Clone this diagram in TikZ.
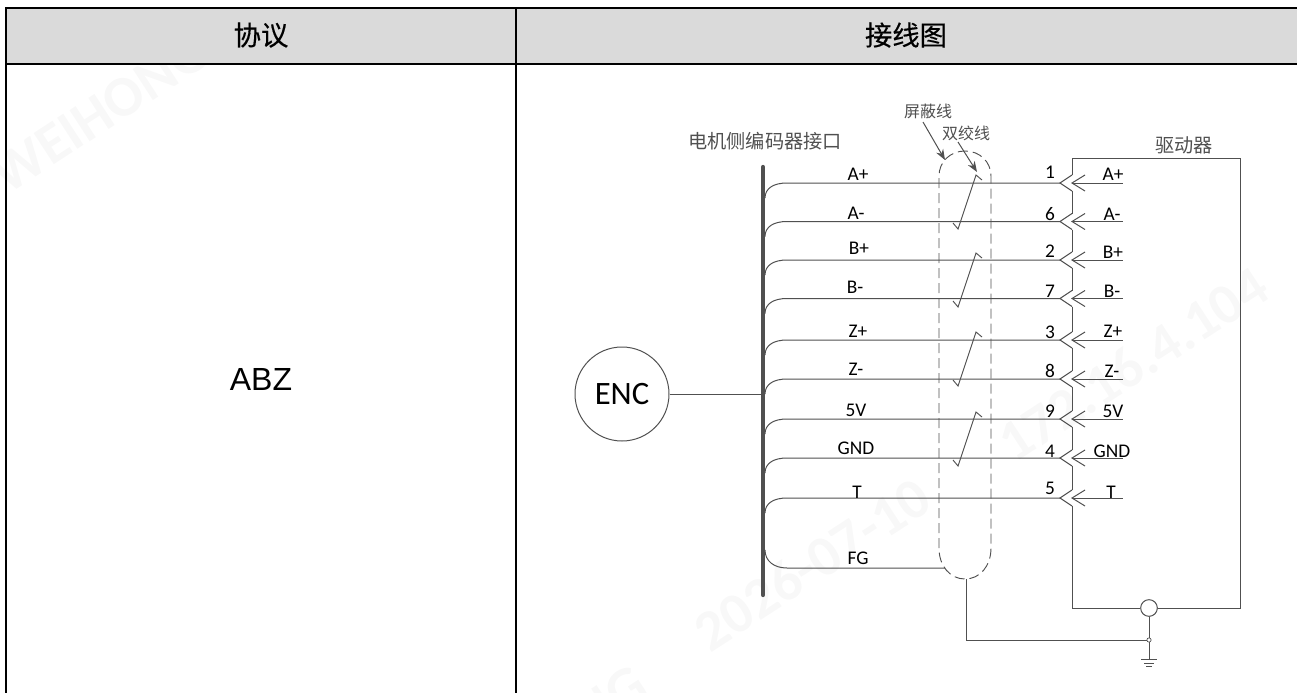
\documentclass[tikz,border=0pt]{standalone}
\usepackage{fontspec}
\setmainfont{Carlito}
\newfontfamily\cjk{Noto Sans CJK SC}
\newfontfamily\cjkhead[FakeBold=0.4]{Noto Sans CJK SC}
\newfontfamily\arialfont{Liberation Sans}
\usetikzlibrary{arrows.meta}
\definecolor{linegray}{HTML}{505050}
\definecolor{headgray}{HTML}{DADADA}
\definecolor{markgray}{HTML}{F8F8F8}
\tikzset{
  tableline/.style={draw=black,line width=1.5pt},
  wire/.style={draw=linegray,line width=0.75pt},
  shield/.style={draw=linegray,line width=0.7pt,dash pattern=on 7.5pt off 3.75pt},
  pointer/.style={draw=linegray,line width=0.75pt,-{Stealth[length=8pt,width=6pt]}},
  wirelabel/.style={anchor=base,inner sep=0pt,font=\fontsize{14.5}{16}\selectfont,text=black},
  cjklabel/.style={inner sep=0pt,font=\cjk\fontsize{12}{14}\selectfont,text=linegray},
  headlabel/.style={inner sep=0pt,font=\cjkhead\fontsize{20.5}{24}\selectfont,text=black},
  watermark/.style={inner sep=0pt,rotate=33,font=\bfseries\fontsize{43}{46}\selectfont,text=markgray}
}
\begin{document}
\begin{tikzpicture}[x=0.75pt,y=-0.75pt]
  \useasboundingbox (0,0) rectangle (1297,693);
  \node[watermark] (M1) at (100,113) {WEIHONG};
  \node[watermark] (M2) at (538,746) {WEIHONG};
  \node[watermark] (M3) at (812,564) {2026-07-10};
  \node[watermark] (M4) at (1133,364) {172.16.4.104};
  % table
  \fill[headgray] (6,8) rectangle (1297,64);
  \draw[tableline] (1297,8) -- (6,8) -- (6,693);
  \draw[tableline] (6,64) -- (1297,64);
  \draw[tableline] (516,8) -- (516,693);
  \node[headlabel] (H1) at (261,35) {协议};
  \node[headlabel] (H2) at (906,35) {接线图};
  \node[inner sep=0pt,font=\arialfont\fontsize{24}{28}\selectfont] (ABZ) at (261,379) {ABZ};

  % encoder and bus
  \node[draw=linegray,line width=0.75pt,circle,minimum size=70.5pt,inner sep=0pt,
    font=\fontsize{24.5}{28}\selectfont] (ENC) at (622,394) {ENC};
  \coordinate (BusT) at (763,167);
  \coordinate (BusB) at (763,595);
  \draw[draw=linegray,line width=3.2pt,line cap=round] (BusT) -- (BusB);
  \coordinate (BusE) at (763,394);
  \draw[wire] (ENC) -- (BusE);
  \node[cjklabel,font=\cjk\fontsize{14.4}{16}\selectfont] (TMotor) at (765,141) {电机侧编码器接口};
  \node[cjklabel,font=\cjk\fontsize{14.4}{16}\selectfont] (TDrive) at (1184,145) {驱动器};
  \node[cjklabel] (TShield) at (928,111) {屏蔽线};
  \node[cjklabel] (TTwist) at (966,133) {双绞线};

  % wires and connectors
  \foreach \name/\y/\nb/\pin in {Ap/183/178/1, An/221.5/220/6, Bp/260/257/2,
    Bn/298.5/297/7, Zp/340/338/3, Zn/379/377/8, Vv/419/417/9,
    Gd/458/457/4, Tt/498/494/5}{
    \coordinate (\name B) at (765,\y+15);
    \coordinate (\name L) at (787,\y);
    \coordinate (\name P) at (1060,\y);
    \coordinate (\name Q) at (1072,\y);
    \coordinate (\name R) at (1123,\y);
    \draw[wire] (\name B) .. controls (765,\y+5) and (774,\y) .. (\name L) -- (\name P);
    \draw[wire] (1072,\y-8) -- (\name P) -- (1072,\y+8);
    \draw[wire] (1085,\y-8) -- (\name Q) -- (1085,\y+8);
    \draw[wire] (\name Q) -- (\name R);
    \node[wirelabel] (\name N) at (1050,\nb) {\pin};
  }
  \node[wirelabel] (LAp) at (858,180) {A+};
  \node[wirelabel] (LAn) at (856,219) {A-};
  \node[wirelabel] (LBp) at (859,254) {B+};
  \node[wirelabel] (LBn) at (855,293) {B-};
  \node[wirelabel] (LZp) at (858,337) {Z+};
  \node[wirelabel] (LZn) at (856,375) {Z-};
  \node[wirelabel] (LVv) at (856,416) {5V};
  \node[wirelabel] (LGd) at (856,454) {GND};
  \node[wirelabel] (LTt) at (857,498) {T};
  \node[wirelabel] (LFg) at (858,564) {FG};
  \node[wirelabel] (RAp) at (1113,180.5) {A+};
  \node[wirelabel] (RAn) at (1112,220) {A-};
  \node[wirelabel] (RBp) at (1113,258) {B+};
  \node[wirelabel] (RBn) at (1112,297) {B-};
  \node[wirelabel] (RZp) at (1113,337) {Z+};
  \node[wirelabel] (RZn) at (1112,377) {Z-};
  \node[wirelabel] (RVv) at (1113,417) {5V};
  \node[wirelabel] (RGd) at (1112,457) {GND};
  \node[wirelabel] (RTt) at (1111,498) {T};

  % pin strip and drive box
  \foreach \x/\y in {ApP/AnP, AnP/BpP, BpP/BnP, BnP/ZpP, ZpP/ZnP, ZnP/VvP, VvP/GdP, GdP/TtP}{
    \draw[wire] ([xshift=9pt,yshift=-6pt]\x) -- ([xshift=9pt,yshift=6pt]\y);
  }
  \node[draw=linegray,line width=0.75pt,circle,minimum size=12.5pt,inner sep=0pt,fill=white] (Sh) at (1149,608) {};
  \draw[wire] (1072,175) -- (1072,158) -- (1240,158) -- (1240,608) -- (Sh);
  \draw[wire] (1072,506) -- (1072,608) -- (Sh);

  % FG wire and shield
  \coordinate (FgB) at (765,550);
  \coordinate (FgL) at (787,568);
  \coordinate (FgE) at (945,568);
  \draw[wire] (FgB) .. controls (765,561) and (774,568) .. (FgL) -- (FgE);
  \draw[shield] (939,548) -- (939,176) .. controls (939,162) and (950,151) .. (965,151)
    .. controls (980,151) and (991,162) .. (991,176) -- (991,548)
    .. controls (991,566) and (980,579) .. (965,579) .. controls (950,579) and (939,566) .. (939,548);
  \coordinate (ShB) at (966,579);
  \node[draw=linegray,line width=0.5pt,circle,minimum size=3.2pt,inner sep=0pt,fill=white] (Jn) at (1149,640) {};
  \draw[wire] (ShB) -- (966,640) -- (Jn);
  \coordinate (Gnd) at (1149,659);
  \draw[wire] (Sh) -- (Jn) -- (Gnd);
  \draw[wire] (1141,659) -- (1157,659);
  \draw[wire] (1144,663) -- (1154,663);
  \draw[wire] (1146,666) -- (1152,666);

  % twist marks
  \foreach \d in {0,78,157,237}{
    \draw[wire,line width=0.7pt] (953,223+\d) -- (958,229+\d) -- (976,175+\d) -- (982,180+\d);
  }
  \coordinate (S1) at (923,122);
  \coordinate (S2) at (945,160);
  \coordinate (W1) at (958,142);
  \coordinate (W2) at (977,172);
  \draw[pointer] (S1) -- (S2);
  \draw[pointer] (W1) -- (W2);
\end{tikzpicture}
\end{document}
